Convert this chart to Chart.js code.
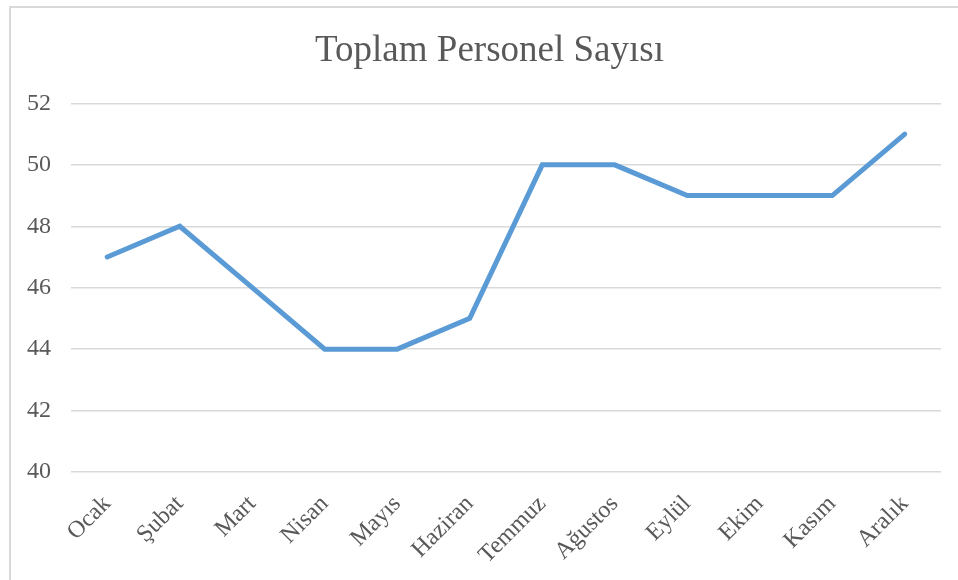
<!DOCTYPE html>
<html>
<head>
<meta charset="utf-8">
<script src="https://cdn.jsdelivr.net/npm/chart.js@4"></script>
<style>
  body { margin: 0; background: #fff; }
  .frame { position: absolute; left: 9px; top: 6px; width: 970px; height: 600px; border-left: 2px solid #d9d9d9; border-top: 2px solid #d9d9d9; }
  .wrap { position: absolute; left: 0; top: 0; width: 958px; height: 580px; }
</style>
</head>
<body>
<div class="frame"></div>
<div class="wrap"><canvas id="chart" width="958" height="580"></canvas></div>
<script>
const months = ['Ocak', 'Şubat', 'Mart', 'Nisan', 'Mayıs', 'Haziran', 'Temmuz', 'Ağustos', 'Eylül', 'Ekim', 'Kasım', 'Aralık'];
const staffCount = [47, 48, 46, 44, 44, 45, 50, 50, 49, 49, 49, 51];
const yTicks = [40, 42, 44, 46, 48, 50, 52];

const textGrey = '#595959';
const serif = '"Liberation Serif", "Times New Roman", serif';

// the title sits centred over the frame, a bit right of the canvas centre
const titleShift = {
  id: 'titleShift',
  afterLayout(chart) {
    chart.titleBlock.left += 19;
    chart.titleBlock.right += 19;
  }
};

new Chart(document.getElementById('chart'), {
  type: 'line',
  data: {
    labels: months,
    datasets: [{
      label: 'Toplam Personel Sayısı',
      data: staffCount,
      borderColor: '#5B9BD5',
      borderWidth: 5,
      borderCapStyle: 'round',
      borderJoinStyle: 'miter',
      tension: 0,
      pointRadius: 0,
      fill: false
    }]
  },
  options: {
    responsive: false,
    animation: false,
    layout: { padding: { left: 0, right: 17, top: 0, bottom: 0 } },
    plugins: {
      legend: { display: false },
      tooltip: { enabled: false },
      title: {
        display: true,
        text: 'Toplam Personel Sayısı',
        color: textGrey,
        font: { family: serif, size: 37, weight: 'normal' },
        padding: { top: 29, bottom: 30 }
      }
    },
    scales: {
      y: {
        min: yTicks[0], max: yTicks[yTicks.length - 1],
        afterBuildTicks: s => { s.ticks = yTicks.map(v => ({ value: v })); },
        afterFit: s => { s.width = 71; },
        border: { display: false },
        grid: { color: '#d9d9d9', lineWidth: 1.5, drawTicks: false },
        ticks: { color: textGrey, padding: 20, font: { family: serif, size: 24 } }
      },
      x: {
        offset: true,
        afterFit: s => { s.height = 108; },
        border: { display: false },
        grid: { display: false },
        ticks: {
          color: textGrey, padding: 10, minRotation: 45, maxRotation: 45,
          font: { family: serif, size: 24 }
        }
      }
    }
  },
  plugins: [titleShift]
});
</script>
</body>
</html>
